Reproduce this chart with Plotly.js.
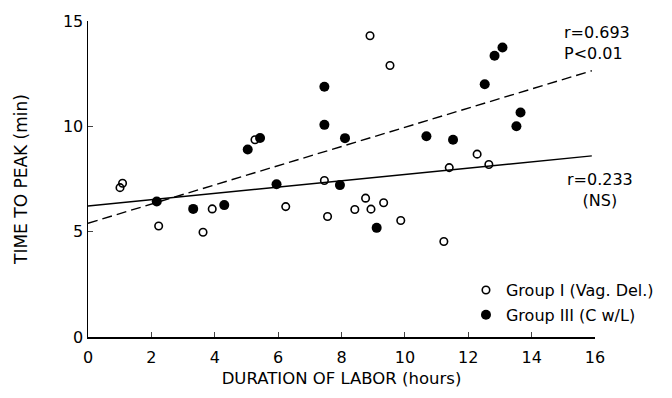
<!DOCTYPE html>
<html><head><meta charset="utf-8">
<script src="https://cdn.plot.ly/plotly-3.0.1.min.js"></script>
<style>html,body{margin:0;padding:0;background:#fff}#chart{width:672px;height:398px}</style>
</head><body><div id="chart"></div>
<script>
// Group I (Vag. Del.) - open circles
const groupIX = [1.01, 1.09, 2.23, 3.63, 3.92, 5.27, 6.24, 7.46, 7.56, 8.42, 8.76, 8.93, 8.90, 9.33, 9.53, 9.87, 11.23, 11.40, 12.28, 12.65];
const groupIY = [7.09, 7.30, 5.27, 4.97, 6.08, 9.36, 6.19, 7.43, 5.72, 6.05, 6.59, 6.07, 14.30, 6.37, 12.89, 5.53, 4.53, 8.04, 8.68, 8.19];
// Group III (C w/L) - filled circles
const groupIIIX = [2.17, 3.32, 4.30, 5.04, 5.43, 5.95, 7.46, 7.46, 7.95, 8.11, 9.11, 10.68, 11.52, 12.52, 12.83, 13.08, 13.52, 13.65];
const groupIIIY = [6.43, 6.08, 6.26, 8.90, 9.45, 7.25, 11.88, 10.07, 7.21, 9.44, 5.18, 9.53, 9.36, 12.00, 13.35, 13.74, 10.00, 10.66];
// Regression lines (endpoints)
const fitX = [0, 15.9];
const fitSolidY = [6.22, 8.60];   // r=0.233 (NS)
const fitDashedY = [5.40, 12.64]; // r=0.693 P<0.01
const xTicks = [0, 2, 4, 6, 8, 10, 12, 14, 16];
const yTicks = [0, 5, 10, 15];

const FONT = 'DejaVu Sans, Verdana, sans-serif';
const traces = [
  {x: fitX, y: fitSolidY, mode: 'lines', line: {color: '#000', width: 1.4}, showlegend: false, hoverinfo: 'skip'},
  {x: fitX, y: fitDashedY, mode: 'lines', line: {color: '#000', width: 1.4, dash: '10px,5px'}, showlegend: false, hoverinfo: 'skip'},
  {x: groupIX, y: groupIY, mode: 'markers', name: 'Group I (Vag. Del.)', legendgroup: 'a',
   marker: {symbol: 'circle-open', size: 7.5, color: '#000', line: {width: 1.6, color: '#000'}}},
  {x: groupIIIX, y: groupIIIY, mode: 'markers', name: 'Group III (C w/L)', legendgroup: 'b',
   marker: {symbol: 'circle', size: 10, color: '#000'}}
];
const layout = {
  width: 672, height: 398,
  margin: {l: 88, r: 77, t: 21, b: 61},
  paper_bgcolor: '#fff', plot_bgcolor: '#fff',
  font: {family: FONT, size: 16, color: '#000'},
  showlegend: true,
  legend: {x: 0.7455, xanchor: 'left', y: 0.109, yanchor: 'middle', bgcolor: 'rgba(0,0,0,0)',
           font: {size: 16}, traceorder: 'grouped', tracegroupgap: 1},
  xaxis: {range: [0, 16], tickvals: xTicks, ticktext: xTicks.map(String), ticks: 'inside', ticklen: 5,
          tickwidth: 1.2, showline: true, linewidth: 1.5, linecolor: '#000', showgrid: false, zeroline: false,
          tickfont: {size: 16}, ticklabelstandoff: 5,
          title: {text: 'DURATION OF LABOR (hours)', font: {size: 16.5}, standoff: 6}},
  yaxis: {range: [0, 15], tickvals: yTicks, ticktext: yTicks.map(String), ticks: 'inside', ticklen: 5,
          tickwidth: 1.2, showline: true, linewidth: 1.5, linecolor: '#000', showgrid: false, zeroline: false,
          tickfont: {size: 16},
          title: {text: 'TIME TO PEAK (min)', font: {size: 17}, standoff: 31}},
  annotations: [
    {xref: 'paper', yref: 'paper', x: 0.935, y: 0.929, xanchor: 'left', yanchor: 'middle', align: 'left',
     text: 'r=0.693<br>P&lt;0.01', showarrow: false, font: {size: 16}},
    {xref: 'paper', yref: 'paper', x: 1.009, y: 0.465, xanchor: 'center', yanchor: 'middle', align: 'center',
     text: 'r=0.233<br>(NS)', showarrow: false, font: {size: 16}}
  ]
};
Plotly.newPlot('chart', traces, layout, {displayModeBar: false, staticPlot: true});
</script></body></html>
